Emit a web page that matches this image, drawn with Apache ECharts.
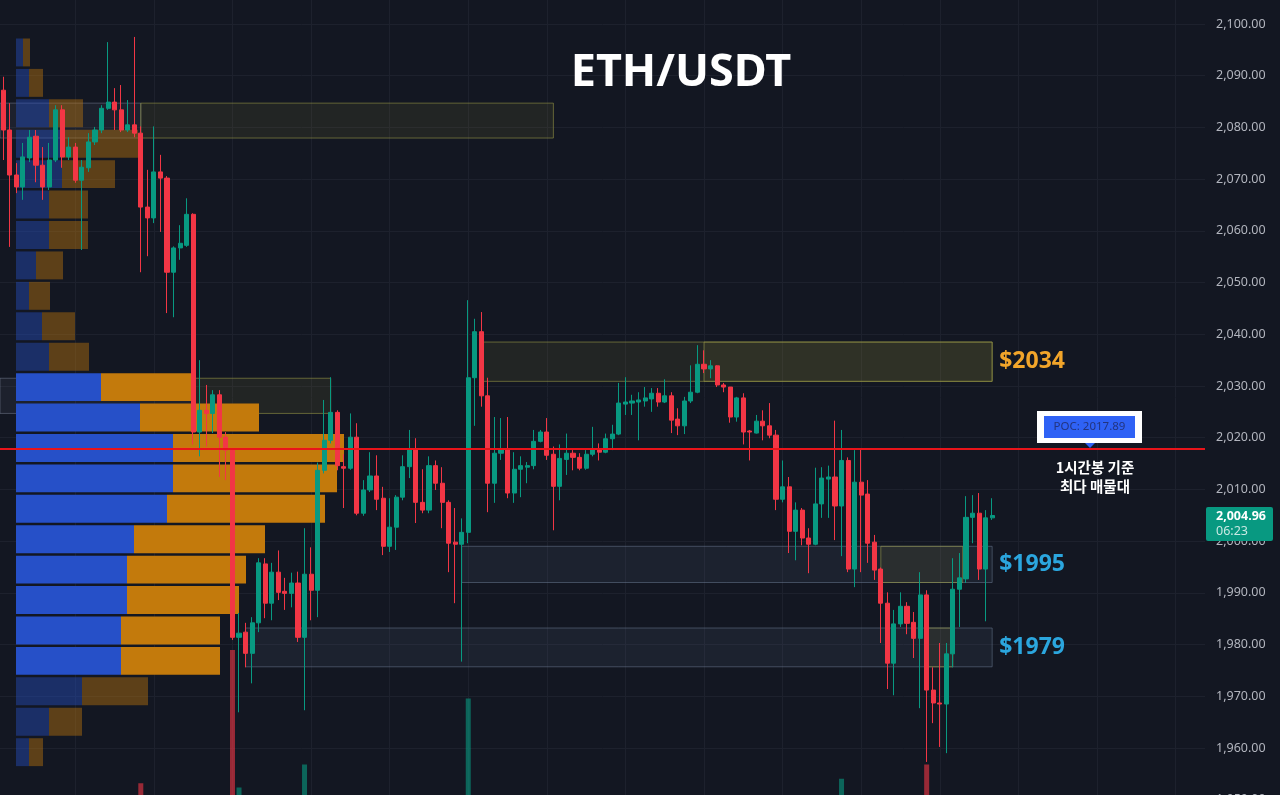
<!DOCTYPE html>
<html>
<head>
<meta charset="utf-8">
<script src="https://cdn.jsdelivr.net/npm/echarts@6/dist/echarts.min.js"></script>
<style>
  html, body { margin: 0; padding: 0; background: #131722; }
  #main { width: 1280px; height: 795px; }
</style>
</head>
<body>
<div id="main"></div>
<script>
// candles: [open, close, low, high]
const ohlc = [
  [2087.2,2079.5,2073.7,2089.8],[2079.5,2070.8,2056.9,2084.7],[2070.8,2068.5,2067.3,2073.1],[2068.5,2074.3,2066.0,2077.0],
  [2074.1,2078.1,2073.3,2079.5],[2078.3,2072.7,2069.4,2079.5],[2072.7,2068.5,2066.0,2076.2],[2068.5,2073.7,2067.9,2077.0],
  [2073.7,2083.4,2073.3,2084.3],[2083.4,2074.3,2072.2,2084.3],[2074.3,2076.2,2073.7,2078.1],[2076.2,2069.8,2069.3,2077.0],
  [2069.8,2072.3,2056.3,2073.7],[2072.2,2077.2,2071.4,2078.9],[2077.2,2079.5,2076.6,2080.1],[2079.5,2083.7,2078.9,2084.3],
  [2083.7,2084.9,2083.4,2096.5],[2084.9,2083.4,2079.5,2087.6],[2083.4,2079.5,2079.1,2088.2],[2079.5,2080.5,2079.1,2085.3],
  [2080.5,2078.9,2078.1,2097.5],[2078.9,2064.6,2052.0,2080.2],[2064.6,2062.5,2055.1,2071.8],[2062.5,2071.4,2061.5,2080.2],
  [2071.4,2070.2,2059.8,2074.7],[2070.2,2052.0,2044.1,2070.6],[2052.0,2056.7,2043.3,2057.0],[2056.7,2057.6,2054.4,2061.1],
  [2057.2,2063.2,2056.9,2066.3],[2063.2,2021.1,2018.7,2063.4],[2021.1,2025.3,2016.4,2035.0],[2025.3,2024.7,2018.3,2030.2],
  [2024.7,2028.3,2020.9,2029.2],[2028.3,2020.1,2012.4,2029.2],[2020.1,2017.6,2011.8,2021.1],[2017.6,1981.4,1980.9,2018.0],
  [1981.4,1982.2,1966.9,1986.1],[1982.4,1978.3,1975.6,1984.2],[1978.3,1984.2,1972.5,1985.3],[1984.2,1995.8,1982.4,1996.7],
  [1995.6,1988.0,1985.1,1996.7],[1988.0,1994.0,1984.7,1995.8],[1994.0,1990.1,1988.6,1998.2],[1990.3,1989.9,1986.7,1992.9],
  [1989.9,1991.9,1987.2,1993.9],[1991.9,1981.4,1980.5,1994.1],[1981.4,1993.6,1967.3,2002.5],[1993.6,1990.5,1984.7,1998.8],
  [1990.5,2013.7,1985.3,2015.2],[2013.7,2019.5,2013.1,2027.3],[2019.5,2024.9,2018.9,2031.7],[2024.9,2014.6,2013.7,2025.3],
  [2014.4,2014.1,2006.4,2016.8],[2014.1,2020.1,2013.8,2024.7],[2020.1,2005.4,2005.0,2022.8],[2005.4,2009.9,2004.9,2011.8],
  [2009.9,2012.6,2009.5,2017.2],[2012.6,2008.1,2006.0,2016.6],[2008.3,1999.0,1997.3,2010.5],[1999.0,2002.7,1997.9,2008.3],
  [2002.7,2008.5,1998.3,2008.9],[2008.5,2014.4,2007.9,2016.6],[2014.4,2017.9,2012.2,2021.5],[2017.9,2007.5,2003.5,2019.9],
  [2007.5,2006.0,2005.4,2013.9],[2006.0,2014.6,2005.4,2016.4],[2014.6,2011.2,2009.9,2015.6],[2011.2,2007.5,2002.5,2014.3],
  [2007.5,1999.6,1994.0,2007.9],[1999.8,1999.4,1988.0,2006.4],[1999.4,2001.7,1976.7,2004.4],[2001.7,2031.6,1999.6,2046.6],
  [2031.6,2040.5,2022.3,2043.0],[2040.5,2028.1,2026.0,2044.3],[2028.1,2011.2,2005.6,2031.6],[2011.2,2017.0,2007.4,2024.0],
  [2017.0,2017.9,2015.7,2023.8],[2017.9,2009.3,2008.3,2024.0],[2009.3,2013.9,2007.4,2017.2],[2013.9,2014.6,2008.5,2016.4],
  [2014.3,2014.6,2011.2,2015.3],[2014.6,2019.3,2013.9,2021.5],[2019.3,2021.1,2019.1,2021.5],[2021.1,2016.6,2015.7,2023.8],
  [2016.8,2010.6,2002.1,2018.3],[2010.6,2016.0,2007.9,2018.7],[2015.8,2017.0,2012.8,2020.8],[2017.0,2016.2,2013.7,2017.6],
  [2016.2,2014.1,2013.7,2017.0],[2014.1,2016.8,2013.8,2017.6],[2016.8,2017.8,2016.4,2022.1],[2017.8,2017.2,2015.6,2018.9],
  [2017.2,2019.8,2017.0,2020.8],[2019.8,2020.7,2017.6,2022.5],[2020.7,2026.7,2020.5,2030.6],[2026.5,2026.9,2024.4,2031.7],
  [2026.7,2027.1,2024.4,2028.3],[2026.9,2027.3,2019.5,2028.8],[2027.1,2027.7,2026.0,2029.8],[2027.5,2028.6,2025.0,2029.6],
  [2028.6,2026.9,2026.0,2029.6],[2026.9,2028.1,2026.7,2031.3],[2028.1,2023.4,2020.9,2028.8],[2023.6,2022.3,2020.5,2025.7],
  [2022.3,2027.1,2020.7,2027.9],[2027.1,2028.8,2026.7,2034.0],[2028.8,2034.2,2028.6,2037.9],[2034.2,2033.3,2032.5,2036.9],
  [2033.3,2033.9,2031.5,2035.0],[2033.9,2030.2,2029.8,2034.0],[2030.2,2029.8,2028.8,2030.6],[2029.8,2024.0,2022.9,2029.8],
  [2024.0,2027.7,2023.1,2027.9],[2027.7,2021.1,2018.7,2028.6],[2021.3,2021.1,2015.6,2021.5],[2020.9,2023.2,2020.8,2024.4],
  [2023.2,2022.3,2019.5,2025.3],[2022.3,2020.5,2019.9,2026.7],[2020.5,2008.1,2006.0,2021.5],[2008.1,2010.5,2007.5,2015.6],
  [2010.5,2001.9,1997.7,2012.4],[2001.9,2006.0,1996.3,2007.5],[2006.0,2000.6,1999.2,2006.4],[2000.6,1999.4,1993.8,2002.5],
  [1999.4,2007.2,1999.2,2014.2],[2007.2,2012.2,2004.5,2014.3],[2012.0,2012.4,2004.5,2014.6],[2012.4,2006.8,2000.2,2023.3],
  [2006.8,2015.6,1997.1,2021.5],[2015.6,1994.6,1994.0,2016.2],[1994.6,2011.4,1991.1,2017.6],[2011.4,2008.9,1994.0,2018.0],
  [2009.1,1999.6,1995.8,2011.8],[1999.8,1994.4,1992.5,2001.2],[1994.6,1988.0,1980.3,1994.9],[1988.0,1976.4,1971.4,1990.1],
  [1976.4,1984.0,1970.2,1986.7],[1984.0,1987.4,1983.4,1990.1],[1987.4,1984.1,1982.0,1988.2],[1984.3,1981.2,1977.4,1986.3],
  [1981.2,1989.6,1967.7,1994.0],[1989.6,1971.2,1957.3,1990.5],[1971.2,1968.7,1964.8,1975.6],[1968.7,1968.5,1960.2,1980.3],
  [1968.5,1978.2,1959.0,1980.3],[1978.2,1990.7,1975.6,1996.7],[1990.7,1992.9,1983.4,1997.7],[1992.7,2004.6,1991.9,2008.7],
  [2004.6,2005.4,1999.6,2008.9],[2005.4,1994.6,1992.5,2009.3],[1994.6,2004.5,1984.5,2006.0],[2004.5,2004.96,2004.1,2008.3]
];

// only the tallest volume bars reach into the visible area
const volumeIdx = [21, 35, 36, 46, 71, 128, 141];
const volumeVal = [28.8, 40.9, 28.4, 30.5, 36.5, 29.2, 30.5];

const slotCount = 184;
const slots = Array.from({ length: slotCount }, (_, i) => String(i));

const priceMin = 1950, priceMax = 2110, priceStep = 10;
const pocPrice = 2017.89;
const lastPrice = 2004.96;
const lastTimer = '06:23';

// volume profile rows, top to bottom
const profileTop = 2097.2, profileStep = 5.883;
const profileBuy  = [3.5, 6.5, 16.5, 23, 23, 16.5, 16.5, 10, 6.5, 13, 16.5, 42.5, 62, 78.5, 78.5, 75.5, 59, 55.5, 55.5, 52.5, 52.5, 33, 16.5, 6.5];
const profileSell = [3.5, 7, 17, 38, 26.5, 19.5, 19.5, 13.5, 10.5, 16.5, 20, 45, 59.5, 85.5, 82, 79, 65.5, 59.5, 56, 49.5, 49.5, 33, 16.5, 7];
const valueAreaRows = [11, 20];

// zones: [kind, fromCandle, toCandle, topPrice, bottomPrice]
const zones = [
  ['gray', -0.5, 21, 2084.7, 2077.95],
  ['olive', 21, 84, 2084.7, 2077.95],
  ['gray', -0.5, 29, 2031.5, 2024.7],
  ['olive', 29, 50, 2031.5, 2024.7],
  ['olive', 73, 151, 2038.5, 2030.9],
  ['olive', 107, 151, 2038.5, 2030.9],
  ['blue', 70, 151, 1999.0, 1992.0],
  ['olive', 134, 146.5, 1999.0, 1992.0],
  ['blue', 37, 151, 1983.2, 1975.7],
  ['olive', 141, 145, 1983.2, 1975.7]
];
const zoneLabels = [
  ['$2034', 151, 2034.7, 'gold'],
  ['$1995', 151, 1995.5, 'sky'],
  ['$1979', 151, 1979.4, 'sky']
];

const UP = '#089981', DOWN = '#f23645';
const zoneStyle = {
  gray:  { fill: 'rgba(120,130,150,0.10)', stroke: 'rgba(130,140,160,0.45)', lineWidth: 1 },
  olive: { fill: 'rgba(140,135,55,0.13)', stroke: 'rgba(150,150,70,0.6)', lineWidth: 1 },
  blue:  { fill: 'rgba(90,110,140,0.13)', stroke: 'rgba(110,125,150,0.5)', lineWidth: 1 }
};
const labelColor = { gold: '#f2a52a', sky: '#2ba6de' };

const candleData = slots.map((_, i) => ohlc[i] || '-');
const volumeData = slots.map(() => null);
volumeIdx.forEach((idx, k) => {
  const c = ohlc[idx];
  volumeData[idx] = {
    value: volumeVal[k],
    itemStyle: { color: c[1] >= c[0] ? 'rgba(8,153,129,0.6)' : 'rgba(242,54,69,0.6)' }
  };
});

const fmt = v => v.toLocaleString('en-US', { minimumFractionDigits: 2, maximumFractionDigits: 2 });
const gridColor = '#1d212d';

const pocRow = profileBuy.reduce((best, b, i) =>
  b + profileSell[i] > profileBuy[best] + profileSell[best] ? i : best, 0);

const chart = echarts.init(document.getElementById('main'));
chart.setOption({
  animation: false,
  backgroundColor: '#131722',
  grid: [
    { left: 0, right: 75, top: -27.7, height: 827.4, outerBoundsMode: 'none', containLabel: false },
    { left: 0, right: 75, top: 0, height: 1100, outerBoundsMode: 'none', containLabel: false },
    { left: 16, width: 600, top: -27.7, height: 827.4, outerBoundsMode: 'none', containLabel: false }
  ],
  xAxis: [
    {
      type: 'category', data: slots, gridIndex: 0, boundaryGap: true,
      axisLine: { show: false }, axisTick: { show: false }, axisLabel: { show: false },
      splitLine: { show: true, alignWithLabel: true, interval: idx => idx % 12 === 11, lineStyle: { color: gridColor, width: 1 } }
    },
    { type: 'category', data: slots, gridIndex: 1, show: false },
    { type: 'value', gridIndex: 2, min: 0, max: 300, show: false }
  ],
  yAxis: [
    {
      type: 'value', gridIndex: 0, position: 'right', min: priceMin, max: priceMax, interval: priceStep,
      axisLine: { show: false }, axisTick: { show: false },
      axisLabel: { color: '#b2b5be', fontSize: 12.5, fontFamily: 'Noto Sans', margin: 11, formatter: v => fmt(v) },
      splitLine: { show: true, lineStyle: { color: gridColor, width: 1 } }
    },
    { type: 'value', gridIndex: 1, min: 0, max: 100, show: false },
    { type: 'value', gridIndex: 2, min: priceMin, max: priceMax, show: false }
  ],
  series: [
    {
      type: 'custom', name: 'zones', xAxisIndex: 0, yAxisIndex: 0, z: 1, silent: true,
      data: zones.map((z, i) => [i, z[3]]),
      renderItem: (params, api) => {
        const z = zones[params.dataIndex];
        const base = api.coord([0, z[3]]);
        const band = api.size([1, 0])[0];
        const x0 = base[0] + z[1] * band;
        const x1 = base[0] + z[2] * band;
        const y0 = api.coord([0, z[3]])[1];
        const y1 = api.coord([0, z[4]])[1];
        return { type: 'rect', shape: { x: x0, y: y0, width: x1 - x0, height: y1 - y0 }, style: zoneStyle[z[0]] };
      }
    },
    {
      type: 'custom', name: 'profile', xAxisIndex: 2, yAxisIndex: 2, z: 2, silent: true,
      data: profileBuy.map((b, i) => [b, profileTop - i * profileStep]),
      renderItem: (params, api) => {
        const t = params.dataIndex;
        const pHi = profileTop - t * profileStep;
        const pLo = pHi - profileStep;
        const yTop = api.coord([0, pHi])[1];
        const yBot = api.coord([0, pLo])[1] - 2.5;
        const x0 = api.coord([0, pHi])[0];
        const xb = api.coord([profileBuy[t], pHi])[0];
        const xs = api.coord([profileBuy[t] + profileSell[t], pHi])[0];
        const inVA = t >= valueAreaRows[0] && t <= valueAreaRows[1];
        const op = inVA ? 1 : 0.42;
        const children = [
          { type: 'rect', shape: { x: x0, y: yTop, width: xb - x0, height: yBot - yTop }, style: { fill: '#2650c8', opacity: op } },
          { type: 'rect', shape: { x: xb, y: yTop, width: xs - xb, height: yBot - yTop }, style: { fill: '#c37a0c', opacity: op } }
        ];
        if (t === pocRow) {
          const yp = api.coord([0, pocPrice])[1];
          children.push({ type: 'line', shape: { x1: x0, y1: yp, x2: xb, y2: yp }, style: { stroke: 'rgba(240,80,140,0.8)', lineWidth: 1 } });
          children.push({ type: 'line', shape: { x1: xb, y1: yp, x2: xs, y2: yp }, style: { stroke: '#ff5a1e', lineWidth: 1.8 } });
        }
        return { type: 'group', children };
      }
    },
    {
      type: 'bar', name: 'volume', xAxisIndex: 1, yAxisIndex: 1, z: 2, barWidth: 5, silent: true,
      data: volumeData
    },
    {
      type: 'candlestick', name: 'ETH/USDT', xAxisIndex: 0, yAxisIndex: 0, z: 3, barWidth: 4.6,
      data: candleData,
      itemStyle: { color: UP, color0: DOWN, borderColor: UP, borderColor0: DOWN, borderWidth: 1 },
      markLine: {
        silent: true, symbol: ['none', 'none'], label: { show: false },
        lineStyle: { color: '#e8141a', width: 2, type: 'solid' },
        data: [{ yAxis: pocPrice }]
      }
    },
    {
      type: 'custom', name: 'zoneLabels', xAxisIndex: 0, yAxisIndex: 0, z: 4, silent: true,
      data: zoneLabels.map(l => [l[1], l[2]]),
      renderItem: (params, api) => {
        const l = zoneLabels[params.dataIndex];
        const p = api.coord([l[1], l[2]]);
        return {
          type: 'text', x: p[0] + 7, y: p[1],
          style: { text: l[0], fill: labelColor[l[3]], font: 'bold 23px "Noto Sans"', align: 'left', verticalAlign: 'middle', textAlign: 'left', textVerticalAlign: 'middle' }
        };
      }
    }
  ],
  graphic: [
    { type: 'text', x: 681, y: 73, z: 10, style: { text: 'ETH/USDT', fill: '#ffffff', font: 'bold 45px "Noto Sans"', align: 'center', verticalAlign: 'middle', textAlign: 'center', textVerticalAlign: 'middle' } },
    { type: 'rect', z: 10, shape: { x: 1037, y: 411, width: 105, height: 32 }, style: { fill: '#ffffff' } },
    { type: 'rect', z: 11, shape: { x: 1044, y: 416, width: 91, height: 22 }, style: { fill: '#2f62f5' } },
    { type: 'text', x: 1089.5, y: 427, z: 12, style: { text: 'POC: ' + pocPrice.toFixed(2), fill: '#22347f', font: '11.5px "Noto Sans"', align: 'center', verticalAlign: 'middle', textAlign: 'center', textVerticalAlign: 'middle' } },
    { type: 'polygon', z: 12, shape: { points: [[1085, 443], [1095, 443], [1090, 448]] }, style: { fill: '#2f62f5' } },
    { type: 'text', x: 1095, y: 467, z: 10, style: { text: '1시간봉 기준', fill: '#ffffff', font: 'bold 14.5px "Noto Sans CJK KR"', align: 'center', verticalAlign: 'middle', textAlign: 'center', textVerticalAlign: 'middle' } },
    { type: 'text', x: 1095, y: 486, z: 10, style: { text: '최다 매물대', fill: '#ffffff', font: 'bold 14.5px "Noto Sans CJK KR"', align: 'center', verticalAlign: 'middle', textAlign: 'center', textVerticalAlign: 'middle' } },
    { type: 'rect', z: 10, shape: { x: 1206, y: 507, width: 67, height: 34, r: 2 }, style: { fill: UP } },
    { type: 'text', x: 1216, y: 516, z: 11, style: { text: fmt(lastPrice), fill: '#ffffff', font: 'bold 12.5px "Noto Sans"', align: 'left', verticalAlign: 'middle', textAlign: 'left', textVerticalAlign: 'middle' } },
    { type: 'text', x: 1216, y: 531, z: 11, style: { text: lastTimer, fill: 'rgba(255,255,255,0.78)', font: '12.5px "Noto Sans"', align: 'left', verticalAlign: 'middle', textAlign: 'left', textVerticalAlign: 'middle' } }
  ]
});
</script>
</body>
</html>
